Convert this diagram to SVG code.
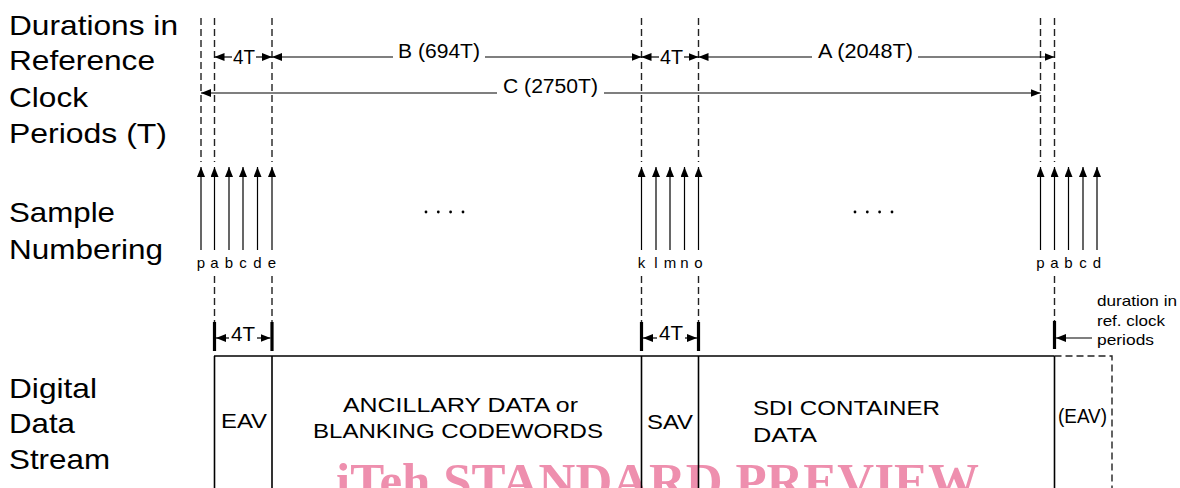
<svg xmlns="http://www.w3.org/2000/svg" width="1180" height="488" viewBox="0 0 1180 488">
<style>
text{font-family:"Liberation Sans",Arial,sans-serif;fill:#000}
.big{font-size:28px}
.dim{font-size:20px}
.box{font-size:21px}
.sm{font-size:15px}
.lbl{font-size:15px;text-anchor:middle}
.dash{stroke:#222;stroke-width:1.4;stroke-dasharray:7 4;fill:none}
.ln{stroke:#000;stroke-width:1.2;fill:none}
.bar{stroke:#000;stroke-width:3.2}
.edge{stroke:#000;stroke-width:1.6;fill:none}
.wm{font-family:"Liberation Serif","Times New Roman",serif;font-weight:bold;font-size:50px;fill:#ee8fae}
</style>
<defs>
<marker id="ah" viewBox="0 0 10 8" refX="10" refY="4" markerWidth="10" markerHeight="8" markerUnits="userSpaceOnUse" orient="auto-start-reverse">
<path d="M0,0 L10,4 L0,8 z" fill="#000"/>
</marker>
</defs>
<rect width="1180" height="488" fill="#fff"/>

<text class="wm" x="336" y="498" textLength="643" lengthAdjust="spacingAndGlyphs">iTeh STANDARD PREVIEW</text>

<g id="row-labels">
<text class="big" x="9" y="35" textLength="169" lengthAdjust="spacingAndGlyphs">Durations in</text>
<text class="big" x="9" y="70" textLength="146" lengthAdjust="spacingAndGlyphs">Reference</text>
<text class="big" x="9" y="107" textLength="79" lengthAdjust="spacingAndGlyphs">Clock</text>
<text class="big" x="9" y="143" textLength="158" lengthAdjust="spacingAndGlyphs">Periods (T)</text>
<text class="big" x="9" y="222" textLength="106" lengthAdjust="spacingAndGlyphs">Sample</text>
<text class="big" x="9" y="259" textLength="154" lengthAdjust="spacingAndGlyphs">Numbering</text>
<text class="big" x="9" y="398" textLength="88" lengthAdjust="spacingAndGlyphs">Digital</text>
<text class="big" x="9" y="433" textLength="66" lengthAdjust="spacingAndGlyphs">Data</text>
<text class="big" x="9" y="469" textLength="101" lengthAdjust="spacingAndGlyphs">Stream</text>
</g>

<g id="guides">
<line class="dash" x1="201" y1="18" x2="201" y2="162"/>
<line class="dash" x1="214.5" y1="18" x2="214.5" y2="162"/>
<line class="dash" x1="272" y1="18" x2="272" y2="162"/>
<line class="dash" x1="641.5" y1="18" x2="641.5" y2="162"/>
<line class="dash" x1="698.5" y1="18" x2="698.5" y2="162"/>
<line class="dash" x1="1040.5" y1="18" x2="1040.5" y2="162"/>
<line class="dash" x1="1054.5" y1="18" x2="1054.5" y2="162"/>
<line class="dash" x1="214.5" y1="276" x2="214.5" y2="322"/>
<line class="dash" x1="272" y1="276" x2="272" y2="322"/>
<line class="dash" x1="641.5" y1="276" x2="641.5" y2="322"/>
<line class="dash" x1="698.5" y1="276" x2="698.5" y2="322"/>
<line class="dash" x1="1054.5" y1="276" x2="1054.5" y2="321"/>
</g>

<g id="connectors">
<line class="ln" x1="232" y1="57" x2="214.5" y2="57" marker-end="url(#ah)"/>
<line class="ln" x1="256" y1="57" x2="272" y2="57" marker-end="url(#ah)"/>
<line class="ln" x1="393" y1="57" x2="272" y2="57" marker-end="url(#ah)"/>
<line class="ln" x1="485" y1="57" x2="641.5" y2="57" marker-end="url(#ah)"/>
<line class="ln" x1="659" y1="57" x2="641.5" y2="57" marker-end="url(#ah)"/>
<line class="ln" x1="684" y1="57" x2="698.5" y2="57" marker-end="url(#ah)"/>
<line class="ln" x1="812" y1="57" x2="698.5" y2="57" marker-end="url(#ah)"/>
<line class="ln" x1="918" y1="57" x2="1054.5" y2="57" marker-end="url(#ah)"/>
<line class="ln" x1="497" y1="93" x2="201" y2="93" marker-end="url(#ah)"/>
<line class="ln" x1="604" y1="93" x2="1040.5" y2="93" marker-end="url(#ah)"/>
<line class="ln" x1="201" y1="250" x2="201" y2="167" marker-end="url(#ah)"/>
<line class="ln" x1="214.5" y1="250" x2="214.5" y2="167" marker-end="url(#ah)"/>
<line class="ln" x1="229" y1="250" x2="229" y2="167" marker-end="url(#ah)"/>
<line class="ln" x1="243" y1="250" x2="243" y2="167" marker-end="url(#ah)"/>
<line class="ln" x1="257.5" y1="250" x2="257.5" y2="167" marker-end="url(#ah)"/>
<line class="ln" x1="272" y1="250" x2="272" y2="167" marker-end="url(#ah)"/>
<line class="ln" x1="641.5" y1="250" x2="641.5" y2="167" marker-end="url(#ah)"/>
<line class="ln" x1="656" y1="250" x2="656" y2="167" marker-end="url(#ah)"/>
<line class="ln" x1="670" y1="250" x2="670" y2="167" marker-end="url(#ah)"/>
<line class="ln" x1="684.5" y1="250" x2="684.5" y2="167" marker-end="url(#ah)"/>
<line class="ln" x1="698.5" y1="250" x2="698.5" y2="167" marker-end="url(#ah)"/>
<line class="ln" x1="1040.5" y1="250" x2="1040.5" y2="167" marker-end="url(#ah)"/>
<line class="ln" x1="1054.5" y1="250" x2="1054.5" y2="167" marker-end="url(#ah)"/>
<line class="ln" x1="1068.5" y1="250" x2="1068.5" y2="167" marker-end="url(#ah)"/>
<line class="ln" x1="1083" y1="250" x2="1083" y2="167" marker-end="url(#ah)"/>
<line class="ln" x1="1097" y1="250" x2="1097" y2="167" marker-end="url(#ah)"/>
<line class="ln" x1="229" y1="338" x2="216" y2="338" marker-end="url(#ah)"/>
<line class="ln" x1="257" y1="338" x2="270.5" y2="338" marker-end="url(#ah)"/>
<line class="ln" x1="657" y1="338" x2="643" y2="338" marker-end="url(#ah)"/>
<line class="ln" x1="685" y1="338" x2="697" y2="338" marker-end="url(#ah)"/>
<line class="ln" x1="1092" y1="338" x2="1056" y2="338" marker-end="url(#ah)"/>
<line class="bar" x1="214.5" y1="322" x2="214.5" y2="351"/>
<line class="bar" x1="272" y1="322" x2="272" y2="351"/>
<line class="bar" x1="641.5" y1="322" x2="641.5" y2="351"/>
<line class="bar" x1="698.5" y1="322" x2="698.5" y2="351"/>
<line class="bar" x1="1054.5" y1="321" x2="1054.5" y2="349"/>
</g>

<g id="durations">
<text class="dim" x="233" y="64" textLength="22" lengthAdjust="spacingAndGlyphs">4T</text>
<text class="dim" x="398" y="58" textLength="82" lengthAdjust="spacingAndGlyphs">B (694T)</text>
<text class="dim" x="660" y="64" textLength="23" lengthAdjust="spacingAndGlyphs">4T</text>
<text class="dim" x="818" y="58" textLength="95" lengthAdjust="spacingAndGlyphs">A (2048T)</text>
<text class="dim" x="503" y="93" textLength="95" lengthAdjust="spacingAndGlyphs">C (2750T)</text>
<text class="dim" x="231" y="341" textLength="24" lengthAdjust="spacingAndGlyphs">4T</text>
<text class="dim" x="659" y="340" textLength="24" lengthAdjust="spacingAndGlyphs">4T</text>
<text class="sm" x="1097" y="306" textLength="80" lengthAdjust="spacingAndGlyphs">duration in</text>
<text class="sm" x="1097" y="326" textLength="68" lengthAdjust="spacingAndGlyphs">ref. clock</text>
<text class="sm" x="1097" y="345" textLength="57" lengthAdjust="spacingAndGlyphs">periods</text>
</g>

<g id="samples">
<text class="lbl" x="201" y="268">p</text>
<text class="lbl" x="214.5" y="268">a</text>
<text class="lbl" x="229" y="268">b</text>
<text class="lbl" x="243" y="268">c</text>
<text class="lbl" x="257.5" y="268">d</text>
<text class="lbl" x="272" y="268">e</text>
<text class="lbl" x="641.5" y="268">k</text>
<text class="lbl" x="656" y="268">l</text>
<text class="lbl" x="670" y="268">m</text>
<text class="lbl" x="684.5" y="268">n</text>
<text class="lbl" x="698.5" y="268">o</text>
<text class="lbl" x="1040.5" y="268">p</text>
<text class="lbl" x="1054.5" y="268">a</text>
<text class="lbl" x="1068.5" y="268">b</text>
<text class="lbl" x="1083" y="268">c</text>
<text class="lbl" x="1097" y="268">d</text>
<g fill="#000">
<circle cx="426" cy="212" r="1.4"/><circle cx="438.3" cy="212" r="1.4"/><circle cx="450.6" cy="212" r="1.4"/><circle cx="463" cy="212" r="1.4"/>
<circle cx="855" cy="212" r="1.4"/><circle cx="867.3" cy="212" r="1.4"/><circle cx="879.6" cy="212" r="1.4"/><circle cx="892" cy="212" r="1.4"/>
</g>
</g>

<g id="stream">
<line class="edge" x1="214" y1="356" x2="1054.5" y2="356"/>
<line class="edge" x1="214.5" y1="356" x2="214.5" y2="488"/>
<line class="edge" x1="272" y1="356" x2="272" y2="488"/>
<line class="edge" x1="641.5" y1="356" x2="641.5" y2="488"/>
<line class="edge" x1="698.5" y1="356" x2="698.5" y2="488"/>
<line class="edge" x1="1054.5" y1="356" x2="1054.5" y2="488"/>
<path class="dash" d="M1054.5,356 H1112 V488"/>
<text class="box" x="221" y="428" textLength="46" lengthAdjust="spacingAndGlyphs">EAV</text>
<text class="box" x="343" y="412" textLength="235" lengthAdjust="spacingAndGlyphs">ANCILLARY DATA or</text>
<text class="box" x="313" y="438" textLength="290" lengthAdjust="spacingAndGlyphs">BLANKING CODEWORDS</text>
<text class="box" x="647" y="429" textLength="46" lengthAdjust="spacingAndGlyphs">SAV</text>
<text class="box" x="753" y="415" textLength="187" lengthAdjust="spacingAndGlyphs">SDI CONTAINER</text>
<text class="box" x="753" y="442" textLength="64" lengthAdjust="spacingAndGlyphs">DATA</text>
<text class="box" x="1058" y="423" textLength="49" lengthAdjust="spacingAndGlyphs">(EAV)</text>
</g>
</svg>
